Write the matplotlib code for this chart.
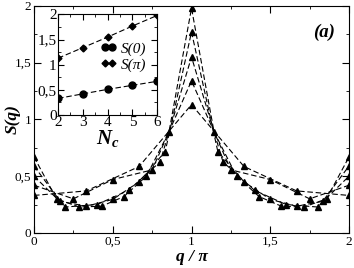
import numpy as np
import matplotlib
matplotlib.use("Agg")
import matplotlib.pyplot as plt
from matplotlib.lines import Line2D
from matplotlib.ticker import MultipleLocator

plt.rcParams['font.family'] = ['Liberation Serif', 'DejaVu Serif']
plt.rcParams['mathtext.fontset'] = 'custom'
plt.rcParams['mathtext.it'] = 'Liberation Serif:italic:bold'
plt.rcParams['mathtext.rm'] = 'Liberation Serif:bold'

# main panel: S(q) vs q/pi for N_c = 2..6
q2 = [0, 0.333, 0.667, 1, 1.333, 1.667, 2]
s2 = [0.33, 0.37, 0.585, 1.13, 0.585, 0.37, 0.33]
q3 = [0, 0.25, 0.5, 0.75, 1, 1.25, 1.5, 1.75, 2]
s3 = [0.42, 0.30, 0.47, 0.555, 1.34, 0.555, 0.47, 0.30, 0.42]
q4 = [0, 0.2, 0.4, 0.6, 0.8, 1, 1.2, 1.4, 1.6, 1.8, 2]
s4 = [0.50, 0.228, 0.25, 0.375, 0.625, 1.55, 0.625, 0.375, 0.25, 0.228, 0.50]
q5 = [0, 0.167, 0.333, 0.5, 0.667, 0.833, 1, 1.167, 1.333, 1.5, 1.667, 1.833, 2]
s5 = [0.59, 0.278, 0.235, 0.295, 0.45, 0.717, 1.77, 0.717, 0.45, 0.295, 0.235, 0.278, 0.59]
q6 = [0, 0.143, 0.286, 0.429, 0.571, 0.714, 0.857, 1, 1.143, 1.286, 1.429, 1.571, 1.714, 1.857, 2]
s6 = [0.67, 0.30, 0.228, 0.235, 0.32, 0.50, 0.89, 1.98, 0.89, 0.50, 0.32, 0.235, 0.228, 0.30, 0.67]

# inset: S(0) and S(pi) vs N_c
nc = [2, 3, 4, 5, 6]
s_zero = [0.33, 0.42, 0.51, 0.59, 0.67]
s_pi = [1.13, 1.34, 1.55, 1.77, 1.98]

tick_vals = [0, 0.5, 1, 1.5, 2]
tick_labels = ['0', '0,5', '1', '1,5', '2']
inset_yticks = [0, 0.5, 1, 1.5, 2]
inset_ylabels = ['0', '0,5', '1', '1,5', '2']
inset_xticks = [2, 3, 4, 5, 6]

dash = (0, (5, 2.5))

fig = plt.figure(figsize=(3.54, 2.68), dpi=100)
ax = fig.add_axes([0.096, 0.131, 0.890, 0.847])

for q, s in [(q2, s2), (q3, s3), (q4, s4), (q5, s5), (q6, s6)]:
    ax.plot(q, s, color='black', ls=dash, lw=0.8,
            marker='^', ms=4.3, mfc='black', mec='black')

ax.set_xlim(0, 2)
ax.set_ylim(0, 2)
ax.set_xticks(tick_vals)
ax.set_xticklabels(tick_labels)
ax.set_yticks(tick_vals)
ax.set_yticklabels(tick_labels)
ax.xaxis.set_minor_locator(MultipleLocator(0.25))
ax.yaxis.set_minor_locator(MultipleLocator(0.25))
ax.tick_params(which='both', direction='in', top=True, right=True, labelsize=9.5, pad=2)
ax.tick_params(which='major', length=5)
ax.tick_params(which='minor', length=2.5)
ax.set_xlabel('q / π', fontsize=12.5, fontweight='bold', style='italic', labelpad=1)
ax.set_ylabel('S(q)', fontsize=12.5, fontweight='bold', style='italic')
ax.yaxis.set_label_coords(-0.042, 0.5)
ax.text(0.955, 0.885, '(a)', transform=ax.transAxes, fontsize=13.5,
        fontweight='bold', style='italic', ha='right', va='center')

# inset
ins = fig.add_axes([0.164, 0.571, 0.280, 0.375])
ins.plot(nc, s_zero, color='black', ls=dash, lw=0.8,
         marker='o', ms=5, mfc='black', mec='black')
ins.plot(nc, s_pi, color='black', ls=dash, lw=0.8,
         marker='D', ms=3.5, mfc='black', mec='black')
ins.set_xlim(2, 6)
ins.set_ylim(0, 2)
ins.set_xticks(inset_xticks)
ins.set_yticks(inset_yticks)
ins.set_yticklabels(inset_ylabels)
ins.xaxis.set_minor_locator(MultipleLocator(0.5))
ins.yaxis.set_minor_locator(MultipleLocator(0.25))
ins.tick_params(which='both', direction='in', top=True, right=True, labelsize=11, pad=1)
ins.tick_params(which='major', length=4)
ins.tick_params(which='minor', length=2)
ins.set_xlabel('$N_c$', fontsize=15, labelpad=-1)

handles = [Line2D([], [], color='black', lw=0.8, marker='o', ms=5),
           Line2D([], [], color='black', lw=0.8, marker='D', ms=3.5)]
ins.legend(handles, ['S(0)', 'S(π)'], loc='center right', bbox_to_anchor=(1.03, 0.58),
           frameon=False, numpoints=2, handlelength=1.1, handletextpad=0.25,
           labelspacing=0.15, prop={'style': 'italic', 'size': 11})

fig.savefig('out.png', dpi=100)
